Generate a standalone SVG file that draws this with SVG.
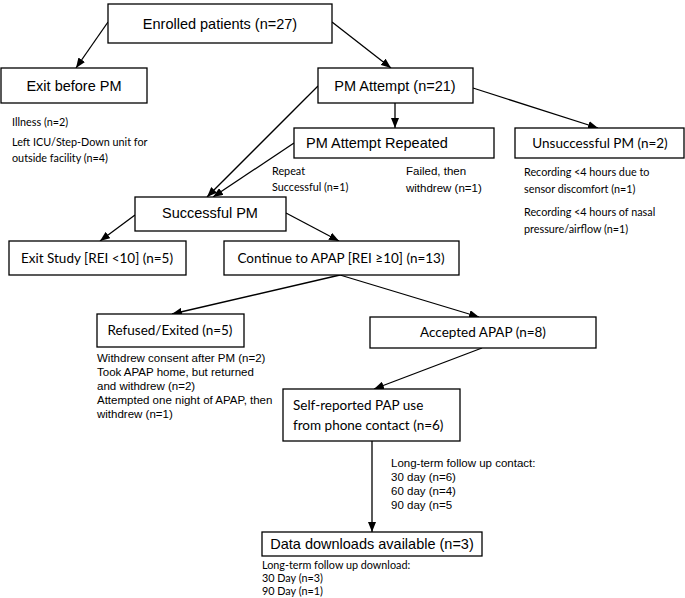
<svg xmlns="http://www.w3.org/2000/svg" width="685" height="598" viewBox="0 0 685 598">
<style>
.box{fill:#fff;stroke:#000;stroke-width:1.3}
.a{font-family:"Liberation Sans",Arial,sans-serif;fill:#000}
.c{font-family:Lato,"Open Sans",sans-serif;fill:#000}
.big{font-size:14.5px}
.mid{font-size:13.5px}
.sm{font-size:11.5px}
.csm{font-size:10.8px}
.ln{stroke:#000;stroke-width:1.3;fill:none;marker-end:url(#ah)}
</style>
<defs>
<marker id="ah" viewBox="0 0 10 8" refX="10" refY="4" markerWidth="10" markerHeight="8" markerUnits="userSpaceOnUse" orient="auto">
<path d="M0,0 L10,4 L0,8 z" fill="#000"/>
</marker>
</defs>
<rect width="685" height="598" fill="#fff"/>
<g id="connectors">
<line class="ln" x1="108" y1="22" x2="76" y2="68"/>
<line class="ln" x1="332" y1="22" x2="391" y2="68"/>
<line class="ln" x1="395" y1="103" x2="395" y2="128"/>
<line class="ln" x1="473" y1="88" x2="598" y2="128"/>
<line class="ln" x1="318" y1="86" x2="207" y2="197"/>
<line class="ln" x1="294" y1="143" x2="213" y2="197"/>
<line class="ln" x1="135" y1="215" x2="100" y2="241"/>
<line class="ln" x1="286" y1="213" x2="339" y2="241"/>
<line class="ln" x1="340" y1="275" x2="172" y2="314"/>
<line class="ln" x1="340" y1="275" x2="479" y2="317"/>
<line class="ln" x1="482" y1="348" x2="374" y2="389"/>
<line class="ln" x1="372" y1="441" x2="372" y2="532"/>
</g>
<g id="enrolled">
<rect class="box" x="108" y="4" width="224" height="39"/>
<text class="a big" x="220" y="29" text-anchor="middle">Enrolled patients (n=27)</text>
</g>
<g id="exit-before">
<rect class="box" x="1" y="68" width="146" height="35"/>
<text class="a big" x="74" y="91" text-anchor="middle">Exit before PM</text>
<text class="c csm" x="12" y="126">Illness (n=2)</text>
<text class="c csm" x="12" y="146">Left ICU/Step-Down unit for</text>
<text class="c csm" x="12" y="162">outside facility (n=4)</text>
</g>
<g id="pm-attempt">
<rect class="box" x="318" y="68" width="155" height="35"/>
<text class="a big" x="395" y="91" text-anchor="middle">PM Attempt (n=21)</text>
</g>
<g id="pm-repeated">
<rect class="box" x="294" y="128" width="200" height="30"/>
<text class="a big" x="306" y="148">PM Attempt Repeated</text>
<text class="c csm" x="272" y="175">Repeat</text>
<text class="c csm" x="272" y="191">Successful (n=1)</text>
<text class="a sm" x="406" y="175">Failed, then</text>
<text class="a sm" x="406" y="192">withdrew (n=1)</text>
</g>
<g id="unsuccessful">
<rect class="box" x="515" y="128" width="169" height="30"/>
<text class="c mid" x="600" y="148" text-anchor="middle">Unsuccessful PM (n=2)</text>
<text class="c csm" x="524" y="176">Recording &lt;4 hours due to</text>
<text class="c csm" x="524" y="193">sensor discomfort (n=1)</text>
<text class="c csm" x="524" y="216">Recording &lt;4 hours of nasal</text>
<text class="c csm" x="524" y="233">pressure/airflow (n=1)</text>
</g>
<g id="successful">
<rect class="box" x="135" y="197" width="151" height="34"/>
<text class="a big" x="210" y="218" text-anchor="middle">Successful PM</text>
</g>
<g id="exit-study">
<rect class="box" x="9" y="241" width="177" height="34"/>
<text class="c mid" x="97" y="263" text-anchor="middle">Exit Study [REI &lt;10] (n=5)</text>
</g>
<g id="continue">
<rect class="box" x="224" y="241" width="235" height="34"/>
<text class="c mid" x="341" y="263" text-anchor="middle">Continue to APAP [REI ≥10] (n=13)</text>
</g>
<g id="refused">
<rect class="box" x="97" y="314" width="147" height="33"/>
<text class="c mid" x="170" y="335" text-anchor="middle">Refused/Exited (n=5)</text>
<text class="a sm" x="97" y="362">Withdrew consent after PM (n=2)</text>
<text class="a sm" x="97" y="376">Took APAP home, but returned</text>
<text class="a sm" x="97" y="390">and withdrew (n=2)</text>
<text class="a sm" x="97" y="404">Attempted one night of APAP, then</text>
<text class="a sm" x="97" y="418">withdrew (n=1)</text>
</g>
<g id="accepted">
<rect class="box" x="370" y="317" width="226" height="31"/>
<text class="c mid" x="483" y="337" text-anchor="middle">Accepted APAP (n=8)</text>
</g>
<g id="self-reported">
<rect class="box" x="283" y="389" width="177" height="52"/>
<text class="c mid" x="293" y="410">Self-reported PAP use</text>
<text class="c mid" x="293" y="430">from phone contact (n=6)</text>
<text class="a sm" x="391" y="467">Long-term follow up contact:</text>
<text class="a sm" x="391" y="481">30 day (n=6)</text>
<text class="a sm" x="391" y="495">60 day (n=4)</text>
<text class="a sm" x="391" y="509">90 day (n=5</text>
</g>
<g id="downloads">
<rect class="box" x="262" y="532" width="220" height="24"/>
<text class="a big" x="372" y="549" text-anchor="middle">Data downloads available (n=3)</text>
<text class="c csm" x="262" y="569">Long-term follow up download:</text>
<text class="c csm" x="262" y="582">30 Day (n=3)</text>
<text class="c csm" x="262" y="595">90 Day (n=1)</text>
</g>
</svg>
